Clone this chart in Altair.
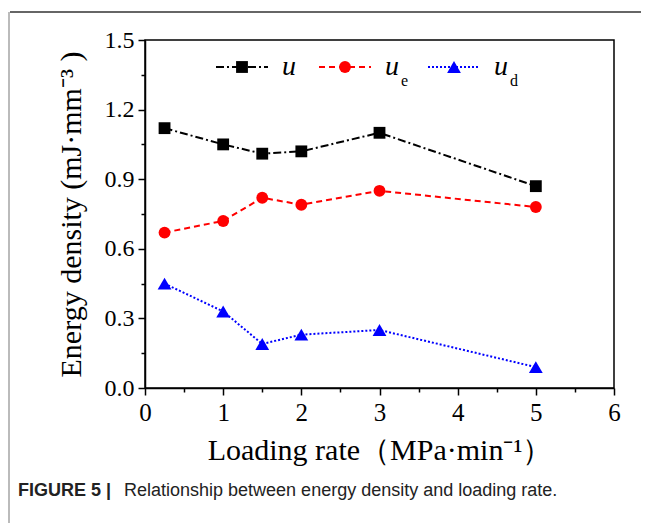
import altair as alt
import pandas as pd

# ---- data ----
loading_rate = [0.25, 1, 1.5, 2, 3, 5]
u_vals  = [1.12, 1.05, 1.01, 1.02, 1.10, 0.87]
ue_vals = [0.67, 0.72, 0.82, 0.79, 0.85, 0.78]
ud_vals = [0.45, 0.33, 0.19, 0.23, 0.25, 0.09]
series_names = ["u", "ue", "ud"]
x_ticks = [0, 0.5, 1, 1.5, 2, 2.5, 3, 3.5, 4, 4.5, 5, 5.5, 6]
y_ticks = [0, 0.15, 0.3, 0.45, 0.6, 0.75, 0.9, 1.05, 1.2, 1.35, 1.5]

rows = []
for name, vals in zip(series_names, [u_vals, ue_vals, ud_vals]):
    for x, v in zip(loading_rate, vals):
        rows.append({"rate": x, "value": v, "series": name})
df = pd.DataFrame(rows)

# ---- styles ----
colors = ["#000000", "#ff0000", "#0000ff"]
dashes = [[8, 3, 2, 3], [6, 4], [2, 2]]
shapes = ["square", "circle", "triangle-up"]
sizes = [140, 140, 190]

W, H = 469, 348
SERIF = "Liberation Serif"

xscale = alt.Scale(domain=[0, 6], nice=False)
yscale = alt.Scale(domain=[0, 1.5], nice=False)

xaxis = alt.Axis(
    values=x_ticks,
    labelExpr="datum.value % 1 == 0 ? format(datum.value, 'd') : ''",
    tickSize={"condition": {"test": "datum.value % 1 != 0", "value": 4}, "value": 7},
    title="Loading rate（MPa·min⁻¹）",
    titleFontSize=30, titleFont=SERIF, titleFontWeight="normal", titleColor="#000",
    labelFontSize=25, labelFont=SERIF, labelColor="#000", labelPadding=5,
    titlePadding=10, grid=False, domainColor="#000", domainWidth=1.5,
    tickColor="#000", tickWidth=1.5, labelFlush=False,
)
yaxis = alt.Axis(
    values=y_ticks,
    labelExpr="round(datum.value*100) % 30 == 0 ? format(datum.value, '.1f') : ''",
    tickSize={"condition": {"test": "round(datum.value*100) % 30 != 0", "value": 4}, "value": 7},
    title="Energy density (mJ·mm⁻³ )",
    titleFontSize=30, titleFont=SERIF, titleFontWeight="normal", titleColor="#000",
    labelFontSize=24, labelFont=SERIF, labelColor="#000", labelPadding=4,
    titlePadding=18, grid=False, domainColor="#000", domainWidth=1.5,
    tickColor="#000", tickWidth=1.5, labelFlush=False,
)

layers = []
for i, name in enumerate(series_names):
    sub = df[df.series == name]
    base = alt.Chart(sub).encode(
        x=alt.X("rate:Q", scale=xscale, axis=xaxis),
        y=alt.Y("value:Q", scale=yscale, axis=yaxis),
    )
    layers.append(base.mark_line(color=colors[i], strokeDash=dashes[i], strokeWidth=2))
    layers.append(base.mark_point(shape=shapes[i], filled=True, opacity=1,
                                  color=colors[i], size=sizes[i]))

# ---- manual legend (pixel layout) ----
one = alt.Data(values=[{"a": 1}])
leg_x0 = [71, 174, 283]
for i, name in enumerate(series_names):
    x0 = leg_x0[i]
    layers.append(alt.Chart(one).mark_rule(color=colors[i], strokeDash=dashes[i], strokeWidth=2)
                  .encode(x=alt.value(x0), x2=alt.value(x0 + 52), y=alt.value(27)))
    layers.append(alt.Chart(one).mark_point(shape=shapes[i], filled=True, opacity=1,
                                            color=colors[i], size=sizes[i])
                  .encode(x=alt.value(x0 + 26), y=alt.value(27)))
    layers.append(alt.Chart(one).mark_text(text="u", font=SERIF, fontStyle="italic",
                                           fontSize=28, align="left", baseline="alphabetic",
                                           color="#000")
                  .encode(x=alt.value(x0 + 66), y=alt.value(35)))
    if len(name) > 1:
        layers.append(alt.Chart(one).mark_text(text=name[1:], font=SERIF,
                                               fontSize=16, align="left", baseline="alphabetic",
                                               color="#000")
                      .encode(x=alt.value(x0 + 82), y=alt.value(46)))

# ---- figure frame and caption ----
layers.append(alt.Chart(one).mark_rule(color="#333333", strokeWidth=1.5)
              .encode(x=alt.value(-135), x2=alt.value(500), y=alt.value(-28)))
layers.append(alt.Chart(one).mark_rule(color="#bbbbbb", strokeWidth=2)
              .encode(x=alt.value(-136), y=alt.value(-28), y2=alt.value(500)))
layers.append(alt.Chart(one).mark_text(text="FIGURE 5 |", font="Liberation Sans", fontWeight="bold",
                                       fontSize=18, align="left", baseline="alphabetic", color="#222")
              .encode(x=alt.value(-127), y=alt.value(456)))
layers.append(alt.Chart(one).mark_text(text="Relationship between energy density and loading rate.",
                                       font="Liberation Sans", fontSize=18, align="left",
                                       baseline="alphabetic", color="#222")
              .encode(x=alt.value(-21), y=alt.value(456)))

chart = alt.layer(*layers).properties(
    width=W, height=H,
    autosize=alt.AutoSizeParams(type="none"),
    padding={"left": 137, "top": 32, "right": 27, "bottom": 135},
    background="white",
).configure_view(stroke="#000", strokeWidth=1.5)

chart.save("out.html", embed_options={"renderer": "svg", "actions": False})
